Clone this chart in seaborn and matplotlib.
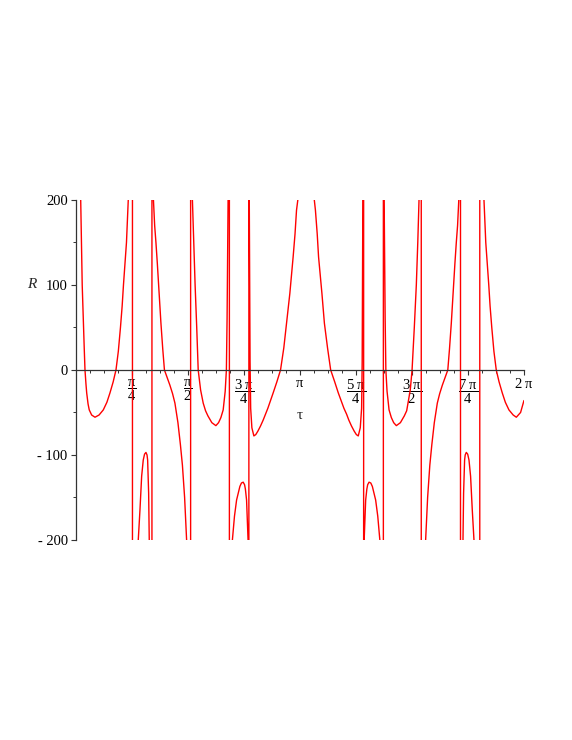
import numpy as np
import pandas as pd
import seaborn as sns
import matplotlib.pyplot as plt
from matplotlib.ticker import MultipleLocator

# -----------------------------
# data (tau in units of pi, R values)
# -----------------------------
b1_t = [0.0232, 0.0265, 0.0299, 0.0345, 0.0390, 0.0423, 0.0465, 0.0499, 0.0560, 0.0613,
        0.0720, 0.0869, 0.1050, 0.1239, 0.1400, 0.1537, 0.1680, 0.1805, 0.1910, 0.2005,
        0.2080, 0.2139, 0.2273, 0.2353]
b1_r = [200, 150, 100, 60, 25, 0, -16, -27, -40, -47,
        -53, -55.6, -53, -47, -38, -27, -14, 0, 22, 50,
        75, 100, 150, 200]

b2_t = [0.2799, 0.2874, 0.2950, 0.3021, 0.3080, 0.3142, 0.3190, 0.3217, 0.3262, 0.3289]
b2_r = [-200, -165, -125, -106, -99, -97, -100, -106, -145, -200]

b3_t = [0.3476, 0.3530, 0.3587, 0.3650, 0.3708, 0.3810, 0.3890, 0.3966, 0.4090, 0.4211,
        0.4330, 0.4434, 0.4568, 0.4679, 0.4768, 0.4866, 0.4955]
b3_r = [200, 170, 150, 125, 100, 55, 25, 0, -9, -18,
        -28, -39, -62, -88, -112, -150, -200]

b4_t = [0.5214, 0.5272, 0.5334, 0.5406, 0.5472, 0.5579, 0.5695, 0.5800, 0.5905, 0.6080,
        0.6261, 0.6380, 0.6484, 0.6586, 0.6676, 0.6729, 0.6760, 0.6783, 0.6805]
b4_r = [200, 150, 100, 50, 0, -23.5, -39, -48, -54, -62,
        -65.5, -62, -56, -47, -25, 0, 60, 130, 200]

b5_t = [0.6997, 0.7090, 0.7184, 0.7331, 0.7400, 0.7478, 0.7540, 0.7576, 0.7629, 0.7696]
b5_r = [-200, -172, -153, -137, -133, -132, -135, -140, -153, -200]

b6_t = [0.7750, 0.7768, 0.7785, 0.7812, 0.7866, 0.7955, 0.8040, 0.8133, 0.8250, 0.8369,
        0.8579, 0.8815, 0.8980, 0.9144, 0.9290, 0.9412, 0.9559, 0.9706, 0.9790, 0.9857,
        0.9915]
b6_r = [200, 100, 10, -45, -68, -77.6, -76, -72, -66, -59,
        -45, -27, -14, 0, 26, 55, 90, 133, 160, 188,
        200]

b7_t = [1.0650, 1.0700, 1.0780, 1.0840, 1.0990, 1.1100, 1.1240, 1.1380, 1.1560, 1.1720,
        1.1970, 1.2090, 1.2190, 1.2310, 1.2430, 1.2525, 1.2610, 1.2700, 1.2760, 1.2785,
        1.2800, 1.2815]
b7_r = [200, 188, 160, 133, 90, 55, 26, 0, -14, -27,
        -45, -52, -59, -66, -72, -76, -77.6, -68, -45, 10,
        100, 200]

b8_t = [1.2874, 1.2941, 1.2994, 1.3030, 1.3092, 1.3170, 1.3239, 1.3386, 1.3480, 1.3573]
b8_r = [-200, -153, -140, -135, -132, -133, -137, -153, -172, -200]

b9_t = [1.3765, 1.3787, 1.3810, 1.3841, 1.3894, 1.3984, 1.4086, 1.4190, 1.4309, 1.4490,
        1.4665, 1.4770, 1.4830, 1.4930, 1.5010, 1.5110, 1.5200, 1.5265, 1.5320]
b9_r = [200, 130, 60, 0, -25, -47, -56, -62, -65.5, -62,
        -54, -48, -39, -23.5, 0, 50, 100, 150, 200]

b10_t = [1.5615, 1.5704, 1.5802, 1.5891, 1.6002, 1.6136, 1.6240, 1.6359, 1.6480, 1.6604,
         1.6680, 1.6760, 1.6862, 1.6920, 1.6983, 1.7040, 1.7094]
b10_r = [-200, -150, -112, -88, -62, -39, -28, -18, -9, 0,
         25, 55, 100, 125, 150, 170, 200]

b11_t = [1.7281, 1.7308, 1.7353, 1.7380, 1.7428, 1.7490, 1.7549, 1.7620, 1.7696, 1.7771]
b11_r = [-200, -145, -106, -100, -97, -99, -106, -125, -165, -200]

b12_t = [1.8217, 1.8297, 1.8431, 1.8490, 1.8565, 1.8660, 1.8765, 1.8890, 1.9033, 1.9170,
         1.9331, 1.9520, 1.9660, 1.9850, 2.0]
b12_r = [200, 150, 100, 75, 50, 22, 0, -14, -27, -38,
         -47, -53, -55.6, -50, -36]

# poles between consecutive branches and the sign of R on each side
pole_t = [0.2540, 0.3409, 0.5134, 0.6863, 0.7732, 1.0285, 1.2850, 1.3730, 1.5420, 1.7170, 1.8030]
pole_left = [1, -1, -1, 1, -1, 1, 1, -1, 1, 1, -1]
pole_right = [-1, 1, 1, -1, 1, 1, -1, 1, -1, -1, 1]
off_scale = 1e4

x_tick_labels = [r'$\dfrac{\mathrm{π}}{4}$', r'$\dfrac{\mathrm{π}}{2}$', r'$\dfrac{3\ \mathrm{π}}{4}$',
                 r'$\mathrm{π}$', r'$\dfrac{5\ \mathrm{π}}{4}$', r'$\dfrac{3\ \mathrm{π}}{2}$',
                 r'$\dfrac{7\ \mathrm{π}}{4}$', r'$2\ \mathrm{π}$']
y_ticks = [-200, -100, 0, 100, 200]
y_tick_labels = ['- 200', '- 100', '0', '100', '200']

# -----------------------------
# build one path, Maple-style (jumps across poles)
# -----------------------------
branches = [(b1_t, b1_r), (b2_t, b2_r), (b3_t, b3_r), (b4_t, b4_r), (b5_t, b5_r), (b6_t, b6_r),
            (b7_t, b7_r), (b8_t, b8_r), (b9_t, b9_r), (b10_t, b10_r), (b11_t, b11_r), (b12_t, b12_r)]
ts, rs = [], []
for i, (bt, br) in enumerate(branches):
    ts += bt
    rs += br
    if i < len(pole_t):
        ts += [pole_t[i], pole_t[i]]
        rs += [pole_left[i] * off_scale, pole_right[i] * off_scale]

df = pd.DataFrame({"tau": np.array(ts) * np.pi, "R": rs})

# -----------------------------
# plot
# -----------------------------
sns.set_style("ticks")
plt.rcParams['font.family'] = ['Liberation Serif', 'DejaVu Serif']
plt.rcParams['mathtext.fontset'] = 'custom'
plt.rcParams['mathtext.rm'] = 'Liberation Serif'
plt.rcParams['mathtext.it'] = 'Liberation Serif:italic'

fig = plt.figure(figsize=(5.72, 7.4), dpi=100)
ax = fig.add_axes([0.132, 0.2703, 0.784, 0.4595])

sns.lineplot(data=df, x="tau", y="R", sort=False, estimator=None, color="#ff0000",
             linewidth=1.0, ax=ax)

ax.set_xlim(0, 2 * np.pi)
ax.set_ylim(-200, 200)

ax.spines['top'].set_visible(False)
ax.spines['right'].set_visible(False)
ax.spines['bottom'].set_position(('data', 0))
for s in ['left', 'bottom']:
    ax.spines[s].set_linewidth(0.9)
    ax.spines[s].set_color('#333333')

ax.set_xticks(np.pi / 4 * np.arange(1, 9))
ax.set_xticklabels(x_tick_labels)
ax.xaxis.set_minor_locator(MultipleLocator(np.pi / 16))
ax.set_yticks(y_ticks)
ax.set_yticklabels(y_tick_labels)
ax.yaxis.set_minor_locator(MultipleLocator(50))

ax.tick_params(axis='both', which='major', direction='out', length=3.6, width=0.8,
               colors='#333333', labelcolor='black', labelsize=10.5)
ax.tick_params(axis='both', which='minor', direction='out', length=2.2, width=0.7, colors='#333333')
ax.tick_params(axis='x', which='major', pad=1.5)
ax.tick_params(axis='y', which='major', pad=2)

ax.set_xlabel('τ', fontsize=11)
ax.xaxis.set_label_coords(0.5, 0.385)
ax.set_ylabel('R', fontsize=11, style='italic', rotation=0, va='center', ha='center')
ax.yaxis.set_label_coords(-0.097, 0.75)

fig.savefig("out.png", dpi=100)
